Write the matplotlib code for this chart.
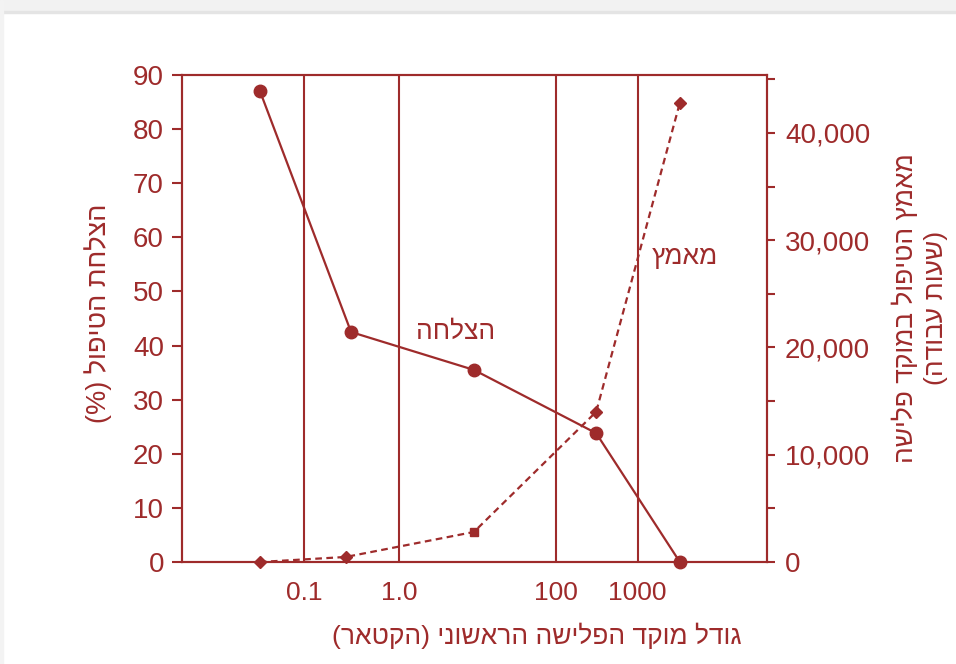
import matplotlib
matplotlib.use('Agg')
import matplotlib.pyplot as plt
from matplotlib.ticker import FixedLocator, MultipleLocator, StrMethodFormatter
from matplotlib.patches import Rectangle

# Datos (eje x en unidades de posición, 0-100)
x_ticks = [20.9, 37.1, 63.9, 77.9]
x_tick_labels = ['0.1', '1.0', '100', '1000']

success_x = [13.3, 28.9, 49.9, 70.8, 85.1]
success = [87.1, 42.5, 35.5, 23.8, 0]

effort_x = [13.3, 28.0, 49.9, 70.8, 85.1]
effort = [0, 470, 2800, 14000, 42800]
effort_markers = ['D', 'D', 's', 'D', 'D']

red = '#9e2b2b'
font = ['Liberation Sans', 'DejaVu Sans']
plt.rcParams['font.family'] = font


def rtl(s):
    # invierte cada línea para mostrar hebreo de derecha a izquierda
    swap = str.maketrans('()', ')(')
    return '\n'.join(line[::-1].translate(swap) for line in s.split('\n'))


fig = plt.figure(figsize=(9.56, 6.64), dpi=100)

# franja gris de la captura de pantalla
fig.patches.append(Rectangle((0, 1 - 12 / 664), 1, 12 / 664,
                             transform=fig.transFigure, color='#f2f2f2', zorder=0))
fig.patches.append(Rectangle((0, 1 - 13 / 664), 1, 1.5 / 664,
                             transform=fig.transFigure, color='#e4e4e4', zorder=0))
fig.patches.append(Rectangle((0, 0), 3 / 956, 1,
                             transform=fig.transFigure, color='#f3f3f3', zorder=0))

ax = fig.add_axes([182 / 956, 1 - 562 / 664, 585 / 956, 487 / 664])

for xv in x_ticks:
    ax.axvline(xv, color=red, lw=1.5, zorder=1)

ax.plot(success_x, success, color=red, lw=1.6, marker='o', ms=9,
        zorder=3, clip_on=False)

ax.set_xlim(0, 100)
ax.set_ylim(0, 90)
ax.yaxis.set_major_locator(MultipleLocator(10))
ax.xaxis.set_major_locator(FixedLocator(x_ticks))
ax.set_xticklabels(x_tick_labels)

ax2 = ax.twinx()
ax2.plot(effort_x, effort, color=red, lw=1.6, ls=(0, (3, 2)), zorder=3,
         clip_on=False)
for xv, yv, m in zip(effort_x, effort, effort_markers):
    ax2.plot(xv, yv, marker=m, ms=6.5 if m == 'D' else 6, color=red,
             zorder=4, clip_on=False)
ax2.set_ylim(0, 45400)
ax2.yaxis.set_major_locator(MultipleLocator(10000))
ax2.yaxis.set_minor_locator(MultipleLocator(5000))
ax2.yaxis.set_major_formatter(StrMethodFormatter('{x:,.0f}'))

for a in (ax, ax2):
    for sp in a.spines.values():
        sp.set_color(red)
        sp.set_linewidth(1.5)

ax.tick_params(axis='y', direction='out', length=7, width=1.5, color=red,
               labelcolor=red, labelsize=20, pad=6)
ax.tick_params(axis='x', length=0, labelcolor=red, labelsize=19, pad=14)
ax2.tick_params(axis='y', which='both', direction='out', length=6, width=1.5,
                color=red, labelcolor=red, labelsize=20, pad=7)

# textos
ax.text(0.467, 0.472, rtl('הצלחה'), transform=ax.transAxes, color=red,
        fontsize=19, ha='center', va='center')
ax.text(0.86, 0.626, rtl('מאמץ'), transform=ax.transAxes, color=red,
        fontsize=19, ha='center', va='center')

fig.text(98 / 956, 1 - 313 / 664, rtl('הצלחת הטיפול (%)'), rotation=90,
         color=red, fontsize=19.5, ha='center', va='center')
fig.text(920 / 956, 1 - 308 / 664,
         rtl('מאמץ הטיפול במוקד פלישה\n(שעות עבודה)'), rotation=90,
         color=red, fontsize=19, ha='center', va='center',
         multialignment='center', linespacing=1.3)
fig.text(537 / 956, 1 - 636 / 664, rtl('גודל מוקד הפלישה הראשוני (הקטאר)'),
         color=red, fontsize=19, ha='center', va='center')

plt.savefig('out.png', dpi=100)
plt.close()
